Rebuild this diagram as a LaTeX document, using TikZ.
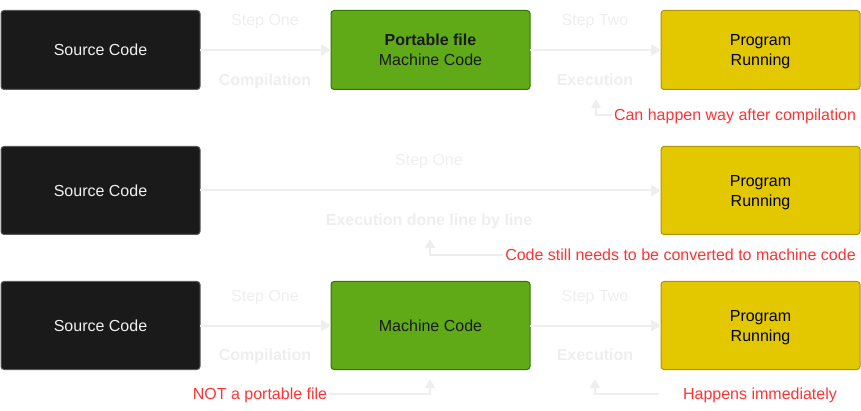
\documentclass[tikz,border=0pt]{standalone}
\usepackage{fontspec}
\setmainfont{Liberation Sans}
\usetikzlibrary{arrows.meta}
\definecolor{darkfill}{HTML}{1A1A1A}
\definecolor{darkline}{HTML}{5A5A5A}
\definecolor{greenfill}{HTML}{60A917}
\definecolor{greenline}{HTML}{2D7600}
\definecolor{yelfill}{HTML}{E3C800}
\definecolor{yelline}{HTML}{B09500}
\definecolor{faint}{HTML}{EEEEEE}
\definecolor{redtext}{HTML}{FF3333}
\definecolor{lighttext}{HTML}{F0F0F0}
\begin{document}
\begin{tikzpicture}[x=1pt,y=-1pt,
  every node/.style={font=\fontsize{16}{20}\selectfont,text depth=0pt},
  boxnode/.style={rectangle,rounded corners=3pt,line width=1pt,minimum width=199pt,inner sep=0pt,outer sep=0pt,align=center},
  srcbox/.style={boxnode,fill=darkfill,draw=darkline,text=lighttext},
  greenbox/.style={boxnode,fill=greenfill,draw=greenline,text=darkfill},
  yelbox/.style={boxnode,fill=yelfill,draw=yelline,text=black},
  stepflow/.style={draw=faint,line width=2pt,-{Triangle[length=10pt,width=11pt]}},
  noteflow/.style={draw=faint,line width=2pt,-{Triangle[length=9pt,width=10pt]}},
  faintlabel/.style={text=faint,inner sep=1pt},
  faintbold/.style={text=faint,inner sep=1pt,font=\fontsize{16}{20}\selectfont\bfseries},
  notelabel/.style={text=redtext,inner sep=2pt}
]
\useasboundingbox (0,0) rectangle (861,411);

% Row 1
\node[srcbox,minimum height=79pt] (s1) at (100.5,50) {Source Code};
\node[greenbox,minimum height=79pt] (g1) at (430.5,50) {\textbf{Portable file}\\Machine Code};
\node[yelbox,minimum height=79pt] (y1) at (760.5,50) {Program\\Running};
\draw[stepflow] (s1.east) -- (g1.west);
\draw[stepflow] (g1.east) -- (y1.west);
\node[faintlabel] (l1a) at (265,20) {Step One};
\node[faintbold] (l1b) at (265,80) {Compilation};
\node[faintlabel] (l1c) at (595,20) {Step Two};
\node[faintbold] (l1d) at (595,80) {Execution};
\node[notelabel] (n1) at (735,115) {Can happen way after compilation};
\coordinate (t1) at (596,99);
\draw[noteflow] (n1.west) -| (t1);

% Row 2
\node[srcbox,minimum height=88pt] (s2) at (100.5,190.5) {Source Code};
\node[yelbox,minimum height=88pt] (y2) at (760.5,190.5) {Program\\Running};
\draw[stepflow] (s2.east) -- (y2.west);
\node[faintlabel] (l2a) at (429,160) {Step One};
\node[faintbold] (l2b) at (429,220) {Execution done line by line};
\node[notelabel] (n2) at (680.5,255) {Code still needs to be converted to machine code};
\coordinate (t2) at (430,239);
\draw[noteflow] (n2.west) -| (t2);

% Row 3
\node[srcbox,minimum height=88pt] (s3) at (100.5,325.5) {Source Code};
\node[greenbox,minimum height=88pt] (g3) at (430.5,325.5) {Machine Code};
\node[yelbox,minimum height=88pt] (y3) at (760.5,325.5) {Program\\Running};
\draw[stepflow] (s3.east) -- (g3.west);
\draw[stepflow] (g3.east) -- (y3.west);
\node[faintlabel] (l3a) at (265,296) {Step One};
\node[faintbold] (l3b) at (265,355) {Compilation};
\node[faintlabel] (l3c) at (595,296) {Step Two};
\node[faintbold] (l3d) at (595,355) {Execution};
\node[notelabel] (n3) at (260,394) {NOT a portable file};
\coordinate (t3) at (430,379);
\draw[noteflow] (n3.east) -| (t3);
\node[notelabel] (n4) at (760,394) {Happens immediately};
\coordinate (t4) at (595,379);
\draw[noteflow] ([xshift=-22pt]n4.west) -| (t4);
\end{tikzpicture}
\end{document}
